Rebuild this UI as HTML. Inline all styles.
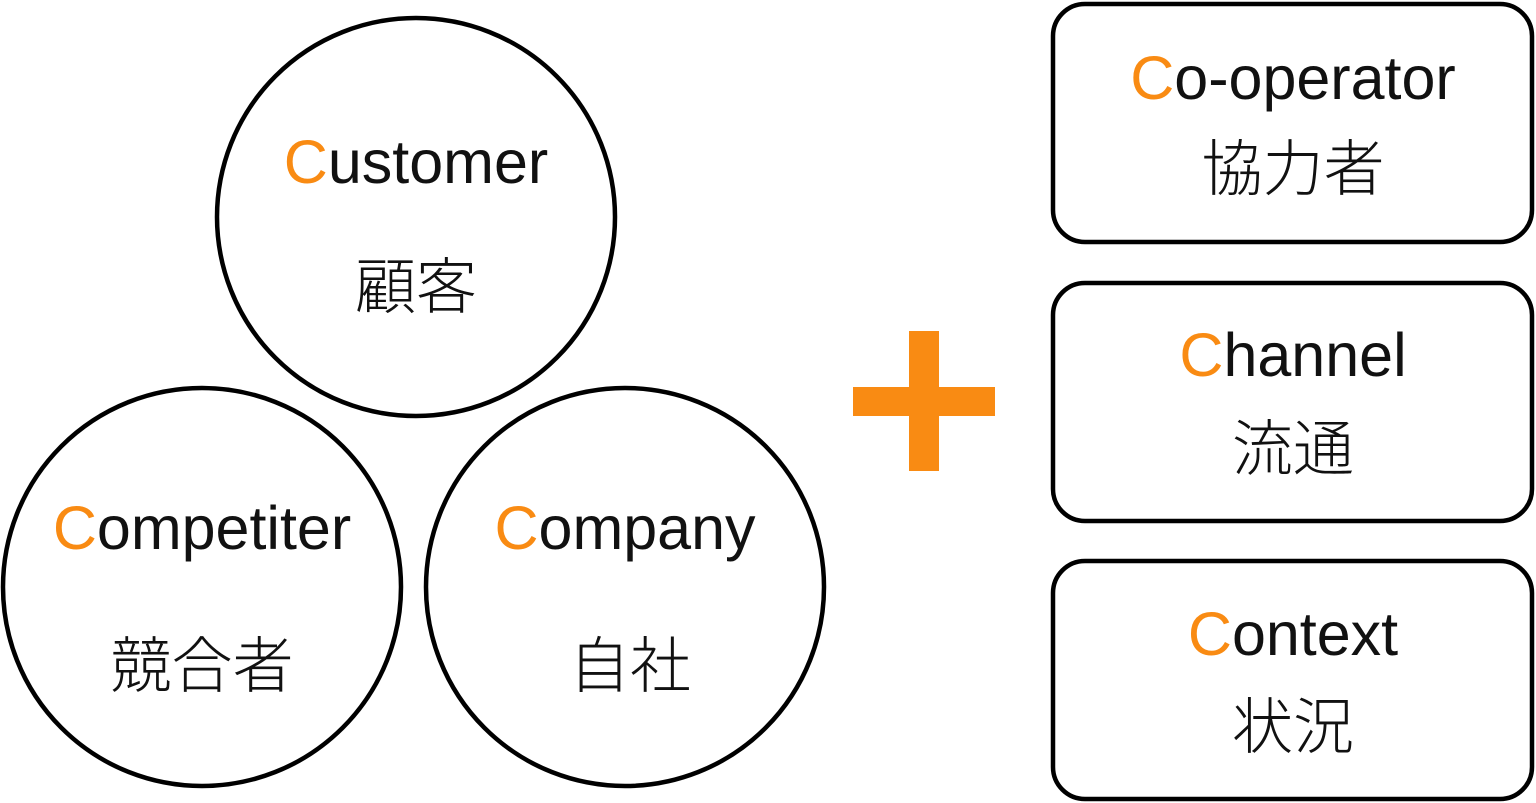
<!DOCTYPE html>
<html><head><meta charset="utf-8"><style>
html,body{margin:0;padding:0;background:#fff;}
svg{display:block}
text{font-family:"Liberation Sans","Noto Sans CJK JP",sans-serif;fill:#111;text-anchor:middle}
.o{fill:#F98B13}
.j{font-weight:300}
</style></head><body>
<svg width="1536" height="803" viewBox="0 0 1536 803">
<g fill="none" stroke="#000" stroke-width="4.5">
<circle cx="416" cy="217" r="199"/>
<circle cx="202" cy="587" r="199"/>
<circle cx="625" cy="587" r="199"/>
<rect x="1053" y="4" width="479" height="238" rx="32"/>
<rect x="1053" y="283" width="479" height="238" rx="32"/>
<rect x="1053" y="561" width="479" height="238" rx="32"/>
</g>
<rect x="853" y="387" width="142" height="29" fill="#F98B13"/>
<rect x="909" y="331" width="30" height="140" fill="#F98B13"/>
<g font-size="61">
<text x="416" y="183"><tspan class="o">C</tspan>ustomer</text>
<text x="202" y="549"><tspan class="o">C</tspan>ompetiter</text>
<text x="625" y="549"><tspan class="o">C</tspan>ompany</text>
<text x="1293" y="99"><tspan class="o">C</tspan>o-operator</text>
<text x="1293" y="376"><tspan class="o">C</tspan>hannel</text>
<text x="1293" y="655"><tspan class="o">C</tspan>ontext</text>
</g>
<g font-size="61" class="j">
<text x="416" y="308">顧客</text>
<text x="202" y="687">競合者</text>
<text x="630" y="687">自社</text>
<text x="1293" y="190">協力者</text>
<text x="1293" y="470">流通</text>
<text x="1293" y="748">状況</text>
</g>
</svg>
</body></html>
